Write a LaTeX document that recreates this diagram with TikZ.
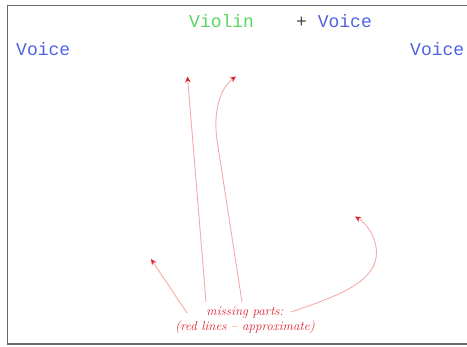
\documentclass[tikz,border=0pt]{standalone}
\usepackage{fontspec}
\newfontfamily\partfont{Liberation Mono}
\usetikzlibrary{arrows.meta,positioning}
\definecolor{violingreen}{RGB}{88,214,98}
\definecolor{voiceblue}{RGB}{78,98,226}
\definecolor{plusgray}{RGB}{70,70,70}
\definecolor{framegray}{RGB}{105,105,105}
\definecolor{notered}{RGB}{222,34,44}
\definecolor{linered}{RGB}{246,170,170}

\begin{document}
\begin{tikzpicture}[x=1pt, y=-1pt,
  part/.style={inner sep=0pt, anchor=base west,
    font=\fontsize{18}{20}\selectfont\partfont},
  voice/.style={part, text=voiceblue},
  hint/.style={-{Stealth[length=6pt, width=5.5pt, color=notered]},
    draw=linered, line width=0.9pt},
  note/.style={align=center, inner sep=0pt, text=notered,
    font=\fontsize{13}{15.5}\selectfont\itshape}
]
\useasboundingbox (0,0) rectangle (467,347);
\begin{scope}
  \clip (0,0) rectangle (467,347);
  \draw[framegray, line width=1.5pt] (7.5,5.5) rectangle (472,344);
\end{scope}

% parts that are there
\node[part, text=violingreen] (violin) at (189,28) {Violin};
\node[part, text=plusgray] (plus) at (296,28) {+};
\node[voice] (voicetop) at (317.6,28) {Voice};
\node[voice] (voiceleft) at (16,56) {Voice};
\node[voice] (voiceright) at (410,56) {Voice};

% the note and where its lines point
\node[note] (missing) at (245,320.5) {missing parts:\\(red lines -- approximate)};
\coordinate (fromA) at (187,313);
\coordinate (fromB) at (206,302);
\coordinate (fromC) at (242,302);
\coordinate (fromD) at (291,312);
\coordinate (gapleft) at (151,259);
\coordinate (gapviolin) at (187.5,76.5);
\coordinate (gapvoice) at (236,76.5);
\coordinate (gapright) at (355,216.5);

\draw[hint] (fromA) -- (gapleft);
\draw[hint] (fromB) -- (gapviolin);
\draw[hint] (fromC) -- (217,140) .. controls (213,112) and (220,88) .. (gapvoice);
\draw[hint] (fromD) .. controls (338,296) and (377,282) .. (376.5,252)
  .. controls (376,236) and (366,223) .. (gapright);
\end{tikzpicture}
\end{document}
